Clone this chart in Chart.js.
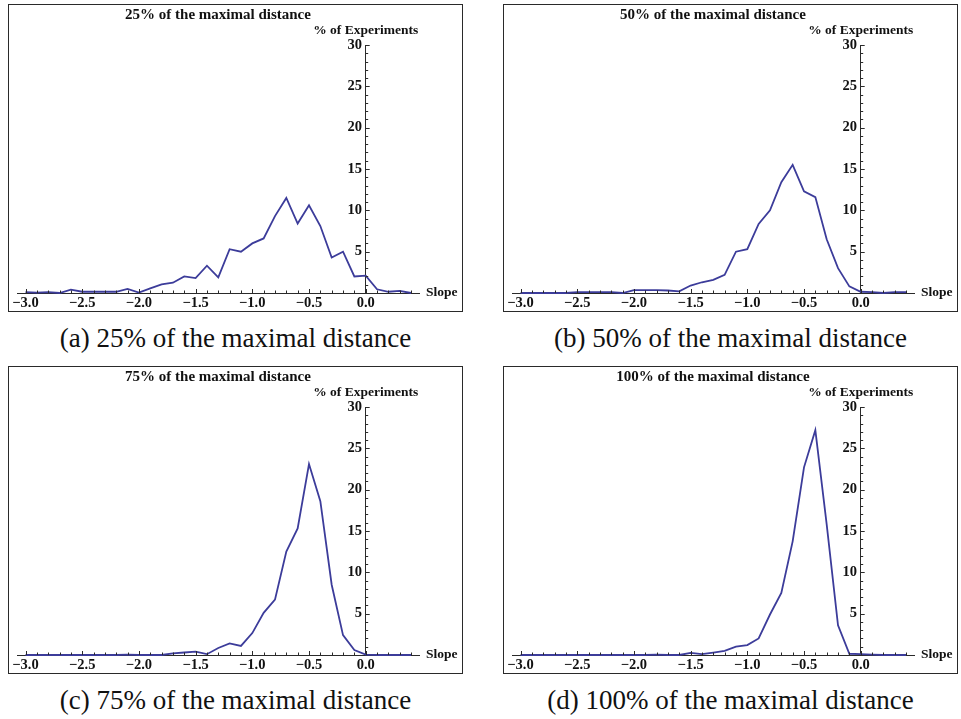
<!DOCTYPE html>
<html>
<head>
<meta charset="utf-8">
<title>Slope distributions</title>
<script src="https://cdn.jsdelivr.net/npm/chart.js@4.4.0/dist/chart.umd.min.js"></script>
<style>
  body { margin: 0; background: #fff; }
  #page { position: relative; width: 961px; height: 719px; overflow: hidden; }
  .frame { position: absolute; width: 455px; height: 308px; box-sizing: border-box; border: 1px solid #2a2a2a; background: #fff; }
  .frame canvas { position: absolute; left: 0; top: 0; }
  .caption { position: absolute; width: 455px; text-align: center; font-family: 'Liberation Serif', 'Times New Roman', serif; font-size: 27px; color: #111; line-height: 30px; }
</style>
</head>
<body>
<div id="page"></div>
<script>
// 数据：斜率 (x) 与各距离下的实验百分比 (y)
const slopes = [-3.0, -2.9, -2.8, -2.7, -2.6, -2.5, -2.4, -2.3, -2.2, -2.1,
                -2.0, -1.9, -1.8, -1.7, -1.6, -1.5, -1.4, -1.3, -1.2, -1.1,
                -1.0, -0.9, -0.8, -0.7, -0.6, -0.5, -0.4, -0.3, -0.2, -0.1,
                 0.0,  0.1,  0.2,  0.3,  0.4];

const pct25 = [0.1, 0.05, 0.1, 0, 0.4, 0.15, 0.15, 0.15, 0.15, 0.5,
               0.05, 0.55, 1.05, 1.25, 2.0, 1.8, 3.3, 1.9, 5.3, 5.0,
               6.0, 6.6, 9.3, 11.5, 8.4, 10.6, 8.1, 4.3, 5.0, 2.0,
               2.1, 0.45, 0.15, 0.25, 0];

const pct50 = [0, 0, 0, 0, 0, 0.1, 0.1, 0.1, 0.1, 0,
               0.35, 0.35, 0.35, 0.3, 0.2, 0.9, 1.3, 1.6, 2.2, 5.0,
               5.3, 8.35, 10.0, 13.4, 15.5, 12.3, 11.6, 6.5, 3.0, 0.8,
               0.15, 0.1, 0, 0.1, 0.1];

const pct75 = [0, 0, 0, 0, 0, 0, 0, 0, 0, 0.05,
               0, 0, 0, 0.2, 0.3, 0.4, 0.1, 0.85, 1.4, 1.1,
               2.65, 5.1, 6.7, 12.5, 15.3, 23.1, 18.6, 8.5, 2.4, 0.6,
               0.05, 0, 0, 0, 0];

const pct100 = [0, 0, 0, 0, 0, 0, 0, 0, 0, 0,
                0, 0, 0.05, 0, 0, 0.25, 0.1, 0.3, 0.5, 1.0,
                1.2, 2.0, 4.9, 7.5, 13.75, 22.7, 27.2, 15.8, 3.6, 0.15,
                0.1, 0.05, 0, 0, 0];

// 刻度
const xTickValues = [-3.0, -2.5, -2.0, -1.5, -1.0, -0.5, 0.0];
const xTickLabels = ['\u22123.0', '\u22122.5', '\u22122.0', '\u22121.5', '\u22121.0', '\u22120.5', '0.0'];
const yTickValues = [5, 10, 15, 20, 25, 30];
const yTickLabels = ['5', '10', '15', '20', '25', '30'];

const titles = ['25% of the maximal distance', '50% of the maximal distance',
                '75% of the maximal distance', '100% of the maximal distance'];
const captions = ['(a) 25% of the maximal distance', '(b) 50% of the maximal distance',
                  '(c) 75% of the maximal distance', '(d) 100% of the maximal distance'];
const X_TITLE = 'Slope';
const Y_TITLE = '% of Experiments';

// 样式
const SERIF = "'Liberation Serif', 'Times New Roman', serif";
const LINE_COLOR = '#3c3c9a';
const AXIS_COLOR = '#2a2a2a';
const TEXT_COLOR = '#111';
const X_MIN = -3.075;
const X_MAX = 0.47;

// 面板位置
const panels = [
  { left: 8,   top: 4,   series: pct25 },
  { left: 503, top: 4,   series: pct50 },
  { left: 8,   top: 366, series: pct75 },
  { left: 503, top: 366, series: pct100 }
];

// 小刻度 + 轴标题
const axisDecor = {
  id: 'axisDecor',
  afterDraw(chart) {
    const { ctx, scales: { x, y } } = chart;
    const x0 = x.getPixelForValue(0);
    const y0 = y.getPixelForValue(0);
    ctx.save();
    ctx.strokeStyle = AXIS_COLOR;
    ctx.lineWidth = 1;
    ctx.beginPath();
    for (let k = -30; k <= 4; k++) {
      const px = Math.round(x.getPixelForValue(k / 10)) + 0.5;
      const len = k % 5 === 0 ? 4 : 2.5;
      ctx.moveTo(px, y0);
      ctx.lineTo(px, y0 - len);
    }
    for (let k = 1; k <= 30; k++) {
      const py = Math.round(y.getPixelForValue(k)) + 0.5;
      const len = k % 5 === 0 ? 4 : 2.5;
      ctx.moveTo(x0, py);
      ctx.lineTo(x0 + len, py);
    }
    ctx.stroke();

    ctx.fillStyle = TEXT_COLOR;
    ctx.font = 'bold 13.5px ' + SERIF;
    ctx.textBaseline = 'middle';
    ctx.textAlign = 'center';
    ctx.fillText(Y_TITLE, x0, y.getPixelForValue(30) - 14);
    ctx.textAlign = 'left';
    ctx.fillText(X_TITLE, x.right + 7, y0);
    ctx.restore();
  }
};

function tickFont() {
  return { family: SERIF, size: 14.5, weight: 'bold' };
}

function makeChart(canvas, title, values) {
  return new Chart(canvas, {
    type: 'line',
    data: {
      datasets: [{
        data: slopes.map((s, i) => ({ x: s, y: values[i] })),
        borderColor: LINE_COLOR,
        borderWidth: 1.8,
        pointRadius: 0,
        tension: 0,
        fill: false,
        clip: 4
      }]
    },
    options: {
      responsive: false,
      animation: false,
      devicePixelRatio: 1,
      layout: { padding: { left: 8, right: 43, top: 0, bottom: 18 } },
      plugins: {
        legend: { display: false },
        tooltip: { enabled: false },
        title: {
          display: true,
          text: title,
          fullSize: false,
          color: TEXT_COLOR,
          font: { family: SERIF, size: 15, weight: 'bold', lineHeight: 1.2 },
          padding: { top: 1, bottom: 21 }
        }
      },
      scales: {
        x: {
          type: 'linear',
          min: X_MIN,
          max: X_MAX,
          position: { y: 0 },
          afterFit: s => { s.height = 0; },
          afterBuildTicks: s => { s.ticks = xTickValues.map(v => ({ value: v })); },
          grid: { display: false, drawTicks: false, tickLength: 0 },
          border: { display: true, color: AXIS_COLOR, width: 1 },
          ticks: {
            callback: (v, i) => xTickLabels[i],
            font: tickFont(),
            color: TEXT_COLOR,
            padding: 2,
            maxRotation: 0,
            autoSkip: false
          }
        },
        y: {
          type: 'linear',
          min: 0,
          max: 30,
          position: { x: 0 },
          afterFit: s => { s.width = 0; },
          afterBuildTicks: s => { s.ticks = yTickValues.map(v => ({ value: v })); },
          grid: { display: false, drawTicks: false, tickLength: 0 },
          border: { display: true, color: AXIS_COLOR, width: 1 },
          ticks: {
            callback: (v, i) => yTickLabels[i] + ' ',
            font: tickFont(),
            color: TEXT_COLOR,
            padding: 3,
            autoSkip: false
          }
        }
      }
    },
    plugins: [axisDecor]
  });
}

function init() {
  const page = document.getElementById('page');
  panels.forEach((p, i) => {
    const frame = document.createElement('div');
    frame.className = 'frame';
    frame.style.left = p.left + 'px';
    frame.style.top = p.top + 'px';
    const canvas = document.createElement('canvas');
    canvas.width = 453;
    canvas.height = 306;
    frame.appendChild(canvas);
    page.appendChild(frame);

    const cap = document.createElement('div');
    cap.className = 'caption';
    cap.style.left = p.left + 'px';
    cap.style.top = (p.top + 319) + 'px';
    cap.textContent = captions[i];
    page.appendChild(cap);

    makeChart(canvas, titles[i], p.series);
  });
}

init();
</script>
</body>
</html>
